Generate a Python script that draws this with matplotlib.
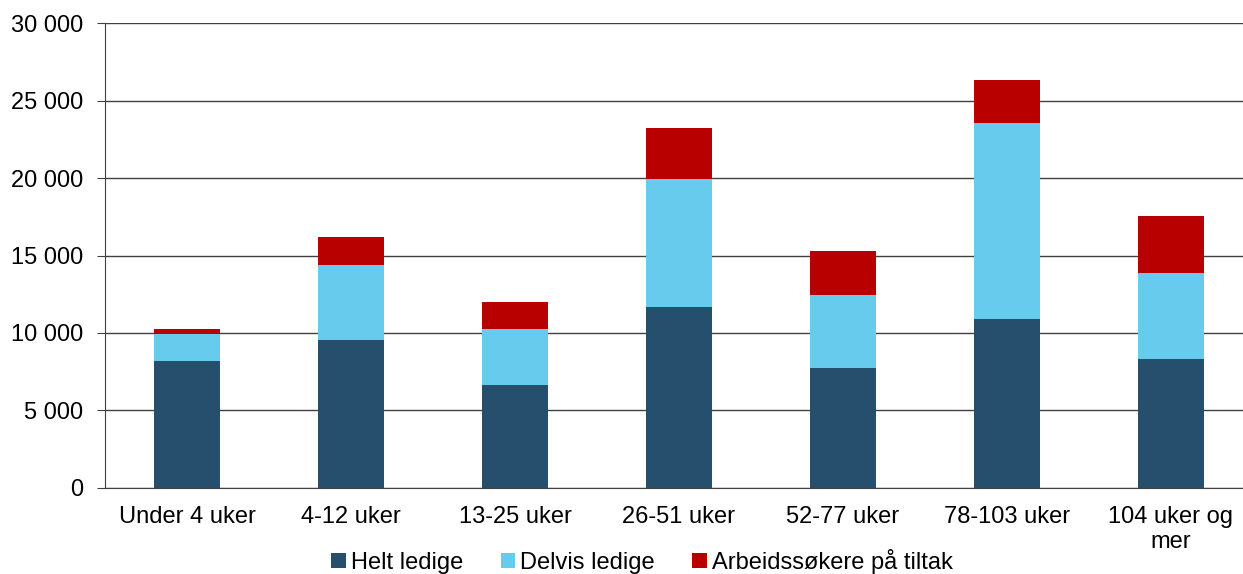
import numpy as np
import matplotlib
matplotlib.use("Agg")
import matplotlib.pyplot as plt
from matplotlib.ticker import FuncFormatter

plt.rcParams['font.family'] = ['Liberation Sans', 'DejaVu Sans']

# Data
categories = ['Under 4 uker', '4-12 uker', '13-25 uker', '26-51 uker',
              '52-77 uker', '78-103 uker', '104 uker og\nmer']
helt = [8160, 9560, 6660, 11700, 7750, 10880, 8310]
delvis = [1800, 4800, 3580, 8220, 4700, 12710, 5580]
tiltak = [320, 1850, 1780, 3330, 2860, 2730, 3650]
series_names = ['Helt ledige', 'Delvis ledige', 'Arbeidssøkere på tiltak']
colors = ['#264F6E', '#66CBEC', '#B80000']

fig = plt.figure(figsize=(12.43, 5.74), dpi=100)
ax = fig.add_axes([105/1243, 1 - 487.7/574, 1148/1243, (487.7 - 23.3)/574])

x = np.arange(len(categories))
w = 0.4
b1 = ax.bar(x, helt, w, color=colors[0], label=series_names[0], zorder=3)
b2 = ax.bar(x, delvis, w, bottom=helt, color=colors[1], label=series_names[1], zorder=3)
bottom2 = np.array(helt) + np.array(delvis)
b3 = ax.bar(x, tiltak, w, bottom=bottom2, color=colors[2], label=series_names[2], zorder=3)

ax.set_xlim(-0.5, len(categories) - 0.5)
ax.set_ylim(0, 30000)
ax.set_yticks(np.arange(0, 30001, 5000))
ax.yaxis.set_major_formatter(FuncFormatter(lambda v, p: f"{int(v):,}".replace(",", " ")))
ax.set_xticks(x)
ax.set_xticklabels(categories, linespacing=1.2)

ax.grid(axis='y', color='#404040', linewidth=1.0, zorder=0)
for s in ['top', 'right']:
    ax.spines[s].set_visible(False)
ax.spines['left'].set_color('#404040')
ax.spines['bottom'].set_color('#404040')
ax.tick_params(axis='y', length=5.5, color='#404040', labelsize=17, pad=10)
ax.tick_params(axis='x', length=0, labelsize=17, pad=13)

fig.legend(handles=[b1, b2, b3], labels=series_names, loc='center',
           bbox_to_anchor=(642/1243, 13/574), ncol=3, frameon=False,
           fontsize=17, handlelength=0.62, handleheight=0.62,
           handletextpad=0.2, columnspacing=1.6, borderpad=0)

fig.savefig('out.png', dpi=100)
